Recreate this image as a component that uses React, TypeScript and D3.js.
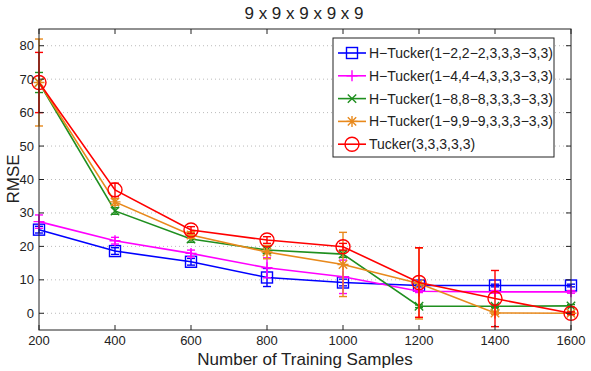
import React from 'react';
import * as d3 from 'd3';

const samples = [200, 400, 600, 800, 1000, 1200, 1400, 1600];

const seriesNames = [
  'H\u2212Tucker(1\u22122,2\u22122,3,3,3\u22123,3)',
  'H\u2212Tucker(1\u22124,4\u22124,3,3,3\u22123,3)',
  'H\u2212Tucker(1\u22128,8\u22128,3,3,3\u22123,3)',
  'H\u2212Tucker(1\u22129,9\u22129,3,3,3\u22123,3)',
  'Tucker(3,3,3,3,3)',
];

const hTucker2 = [25, 18.6, 15.4, 10.7, 9.2, 8.3, 8.3, 8.3];
const hTucker2Err = [1, 1, 1, 2.7, 1, 0.4, 0.4, 0.4];
const hTucker4 = [27.4, 21.7, 17.9, 13.6, 10.9, 6.6, 6.4, 6.4];
const hTucker4Err = [2, 1, 1, 3, 5, 0.4, 0.4, 0.4];
const hTucker8 = [69, 30.6, 22.2, 18.9, 17.7, 2.1, 2.1, 2.2];
const hTucker8Err = [3, 1, 1, 1, 1, 0.4, 0.4, 0.4];
const hTucker9 = [69, 33.3, 23.4, 18.3, 14.6, 8.9, 0.1, 0];
const hTucker9Err = [13, 1, 1, 2, 9.6, 10.6, 0.4, 0.4];
const tucker = [69, 36.9, 24.9, 21.9, 19.9, 9.2, 4.4, 0];
const tuckerErr = [9, 2, 1, 1, 1, 10.4, 8.4, 0.4];

const yTicks = [0, 10, 20, 30, 40, 50, 60, 70, 80];

const colors = ['#0000ff', '#ff00ff', '#1f8f1f', '#e8891c', '#ff0000'];
const markers = ['square', 'plus', 'x', 'star', 'circle'];

const allValues = [hTucker2, hTucker4, hTucker8, hTucker9, tucker];
const allErrs = [hTucker2Err, hTucker4Err, hTucker8Err, hTucker9Err, tuckerErr];

const font = 'Liberation Sans, Arial, sans-serif';

function Marker({ kind, x, y, color }) {
  const sw = 1.4;
  if (kind === 'square') {
    return <rect x={x - 5.5} y={y - 5.5} width={11} height={11} fill="none" stroke={color} strokeWidth={sw} />;
  }
  if (kind === 'circle') {
    return <circle cx={x} cy={y} r={7} fill="none" stroke={color} strokeWidth={sw} />;
  }
  const s = 5.5;
  const d = 4.2;
  const plus = `M${x - s},${y}H${x + s}M${x},${y - s}V${y + s}`;
  const cross = `M${x - d},${y - d}L${x + d},${y + d}M${x - d},${y + d}L${x + d},${y - d}`;
  let path = plus;
  if (kind === 'x') path = cross;
  if (kind === 'star') path = plus + cross;
  return <path d={path} fill="none" stroke={color} strokeWidth={sw} />;
}

export default function App() {
  const left = 39;
  const right = 571;
  const top = 29;
  const bottom = 330;

  const x = d3.scaleLinear().domain([200, 1600]).range([left, right]);
  const y = d3.scaleLinear().domain([-5, 85]).range([bottom, top]);

  const line = d3.line<number>()
    .x((d, i) => x(samples[i]))
    .y((d) => y(d));

  const xTicks = x.ticks(8).filter((t) => t % 200 === 0);

  return (
    <svg width={591} height={371} style={{ position: 'absolute', left: 0, top: 0, background: '#fff' }}>
      {/* grid */}
      {yTicks.map((t) => (
        <line key={'g' + t} x1={left} x2={right} y1={y(t)} y2={y(t)} stroke="#bbb" strokeWidth={1} strokeDasharray="1,3" />
      ))}

      {/* series */}
      {allValues.map((vals, si) => (
        <g key={'s' + si}>
          <path d={line(vals) || ''} fill="none" stroke={colors[si]} strokeWidth={1.6} />
          {vals.map((v, i) => {
            const e = allErrs[si][i];
            const cx = x(samples[i]);
            return (
              <g key={i}>
                <line x1={cx} x2={cx} y1={y(v - e)} y2={y(v + e)} stroke={colors[si]} strokeWidth={1.4} />
                <line x1={cx - 4} x2={cx + 4} y1={y(v - e)} y2={y(v - e)} stroke={colors[si]} strokeWidth={1.4} />
                <line x1={cx - 4} x2={cx + 4} y1={y(v + e)} y2={y(v + e)} stroke={colors[si]} strokeWidth={1.4} />
                <Marker kind={markers[si]} x={cx} y={y(v)} color={colors[si]} />
              </g>
            );
          })}
        </g>
      ))}

      {/* frame */}
      <rect x={left} y={top} width={right - left} height={bottom - top} fill="none" stroke="#222" strokeWidth={1} />

      {/* x ticks */}
      {xTicks.map((t) => (
        <g key={'x' + t}>
          <line x1={x(t)} x2={x(t)} y1={bottom} y2={bottom - 5} stroke="#222" />
          <line x1={x(t)} x2={x(t)} y1={top} y2={top + 5} stroke="#222" />
          <text x={x(t)} y={345} textAnchor="middle" fontFamily={font} fontSize={13} fill="#222">{t}</text>
        </g>
      ))}

      {/* y ticks */}
      {yTicks.map((t) => (
        <g key={'y' + t}>
          <line x1={left} x2={left + 5} y1={y(t)} y2={y(t)} stroke="#222" />
          <line x1={right} x2={right - 5} y1={y(t)} y2={y(t)} stroke="#222" />
          <text x={34} y={y(t) + 4.5} textAnchor="end" fontFamily={font} fontSize={13} fill="#222">{t}</text>
        </g>
      ))}

      {/* labels */}
      <text x={304} y={19} textAnchor="middle" fontFamily={font} fontSize={17} fill="#222">9 x 9 x 9 x 9 x 9</text>
      <text x={305} y={365} textAnchor="middle" fontFamily={font} fontSize={17} fill="#222">Number of Training Samples</text>
      <text transform="translate(19,179) rotate(-90)" textAnchor="middle" fontFamily={font} fontSize={17} fill="#222">RMSE</text>

      {/* legend */}
      <rect x={333} y={38} width={221} height={119} fill="#fff" stroke="#222" strokeWidth={1} />
      {seriesNames.map((name, i) => {
        const ly = 53 + i * 22.8;
        return (
          <g key={'l' + i}>
            <line x1={338} x2={366} y1={ly} y2={ly} stroke={colors[i]} strokeWidth={1.6} />
            <Marker kind={markers[i]} x={352} y={ly} color={colors[i]} />
            <text x={369} y={ly + 5} fontFamily={font} fontSize={14} fill="#222">{name}</text>
          </g>
        );
      })}
    </svg>
  );
}
